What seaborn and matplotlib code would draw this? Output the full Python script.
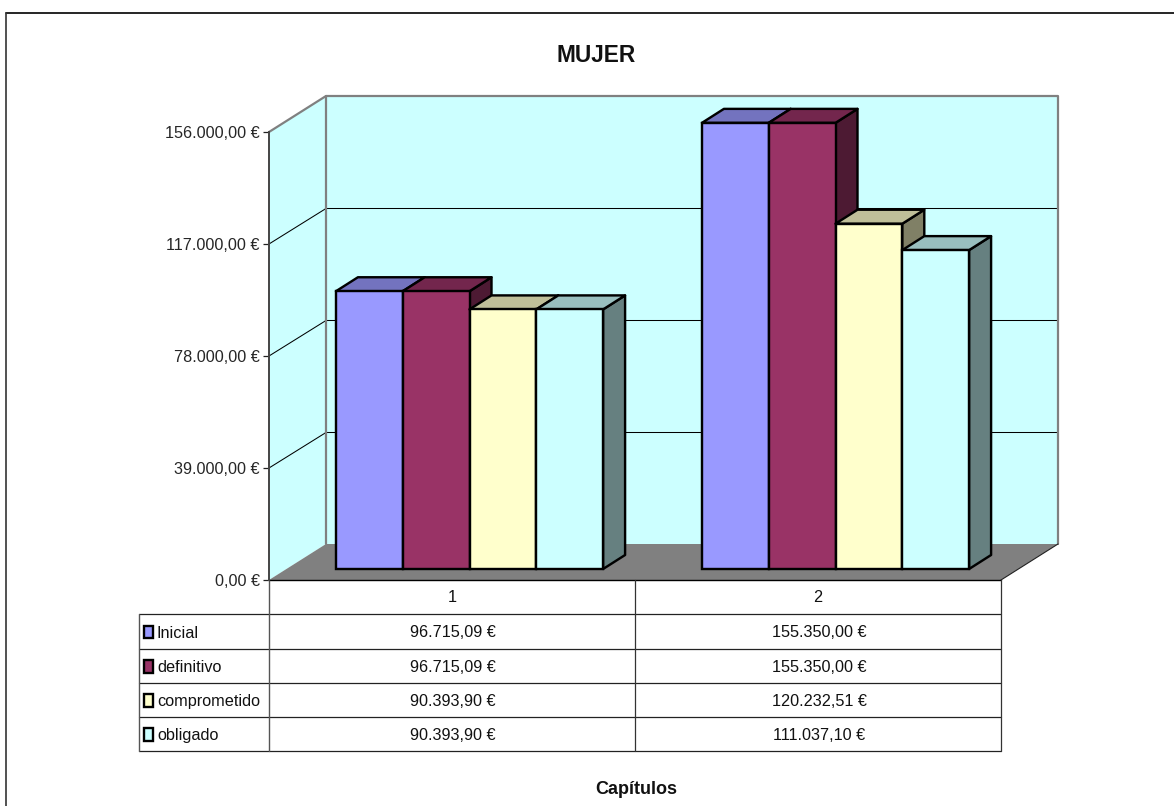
"""
plot.py
Excel style 3D column chart with data table, MUJER budget by chapter.
"""

import pandas as pd
import matplotlib
matplotlib.use("Agg")
import matplotlib.pyplot as plt
import seaborn as sns
from matplotlib.patches import Polygon, Rectangle

# ===== Data =====
CHAPTERS = ["1", "2"]
SERIES = ["Inicial", "definitivo", "comprometido", "obligado"]
INICIAL = [96715.09, 155350.00]
DEFINITIVO = [96715.09, 155350.00]
COMPROMETIDO = [90393.90, 120232.51]
OBLIGADO = [90393.90, 111037.10]
Y_TICKS = [0, 39000, 78000, 117000, 156000]
TITLE = "MUJER"
X_TITLE = "Capítulos"

FRONT = ["#9999FF", "#993366", "#FFFFCC", "#CCFFFF"]
TOP = ["#7373BF", "#73264D", "#BFBF99", "#99BFBF"]
SIDE = ["#4D4D80", "#4D1A33", "#808066", "#668080"]

# ===== Layout (pixels, top-left origin) =====
W, H = 1174, 806
LEFT, RIGHT, BASE, TOP_Y = 269, 1001, 580, 132
WALL_DX, WALL_DY = 57, -36
BAR_DX, BAR_DY = 17.5, -11
DEPTH_DX, DEPTH_DY = 22, -14
ROWS = [580, 614, 649, 683, 717, 751]
TABLE_LEFT = 139
EDGE = 2.4 * 72 / 100  # px to pt


def euro(v):
    s = f"{v:,.2f}".replace(",", "x").replace(".", ",").replace("x", ".")
    return f"{s} €"


def place_axes(fig, x0, x1, y_bottom, y_top, **kw):
    return fig.add_axes([x0 / W, 1 - y_bottom / H, (x1 - x0) / W, (y_bottom - y_top) / H], **kw)


sns.set_theme(style="white")
plt.rcParams["font.family"] = ["Liberation Sans", "DejaVu Sans"]
plt.rcParams["text.color"] = "#111111"

df = pd.DataFrame({
    "chapter": CHAPTERS * 4,
    "series": [s for s in SERIES for _ in CHAPTERS],
    "value": INICIAL + DEFINITIVO + COMPROMETIDO + OBLIGADO,
})

fig = plt.figure(figsize=(W / 100, H / 100), dpi=100, facecolor="white")

# ===== Background: walls, floor, table =====
bg = fig.add_axes([0, 0, 1, 1], zorder=0)
bg.set_xlim(0, W)
bg.set_ylim(H, 0)
bg.axis("off")

back_top = TOP_Y + WALL_DY
back_bottom = BASE + WALL_DY
back_left = LEFT + WALL_DX
back_right = RIGHT + WALL_DX

bg.add_patch(Rectangle((back_left, back_top), back_right - back_left, back_bottom - back_top,
                       fc="#CCFFFF", ec="none"))
bg.add_patch(Polygon([(LEFT, TOP_Y), (back_left, back_top), (back_left, back_bottom), (LEFT, BASE)],
                     fc="#CCFFFF", ec="none"))
bg.add_patch(Polygon([(LEFT, BASE), (back_left, back_bottom), (back_right, back_bottom), (RIGHT, BASE)],
                     fc="#808080", ec="none"))

px_per_unit = (BASE - TOP_Y) / Y_TICKS[-1]
for tick in Y_TICKS[1:-1]:
    y = BASE - tick * px_per_unit
    bg.plot([LEFT, back_left, back_right], [y, y + WALL_DY + 0.5, y + WALL_DY + 0.5], color="black", lw=0.75)

bg.plot([LEFT, back_left, back_right, back_right], [TOP_Y, back_top, back_top, back_bottom],
        color="#808080", lw=1.6)
bg.plot([back_left, back_left], [back_top, back_bottom], color="#808080", lw=1.6)
bg.plot([RIGHT, back_right], [BASE, back_bottom], color="#222222", lw=0.8)

# outer chart border (only top and left show)
bg.plot([6, W], [12.5, 12.5], color="black", lw=1.2)
bg.plot([6, 6], [12.5, H], color="#333333", lw=1.2)

# data table
col_x = [LEFT, (LEFT + RIGHT) / 2, RIGHT]
bg.plot([LEFT, RIGHT], [ROWS[0], ROWS[0]], color="black", lw=1.0)
for y in ROWS[1:]:
    bg.plot([TABLE_LEFT, RIGHT], [y, y], color="#222222", lw=0.9)
bg.plot([TABLE_LEFT, TABLE_LEFT], [ROWS[1], ROWS[-1]], color="#555555", lw=1.0)
bg.plot([LEFT, LEFT], [ROWS[0], ROWS[-1]], color="#555555", lw=1.0)
for x in col_x[1:]:
    bg.plot([x, x], [ROWS[0], ROWS[-1]], color="#333333", lw=0.9)

FONT = 11.7
centers = [(col_x[0] + col_x[1]) / 2, (col_x[1] + col_x[2]) / 2]
for cx, chap in zip(centers, CHAPTERS):
    bg.text(cx, (ROWS[0] + ROWS[1]) / 2 + 0.5, chap, ha="center", va="center", fontsize=FONT)

for i, name in enumerate(SERIES):
    y = (ROWS[i + 1] + ROWS[i + 2]) / 2
    bg.add_patch(Rectangle((143.5, y - 6), 9.5, 12.5, fc=FRONT[i], ec="black", lw=1.7))
    bg.text(157, y + 1.5, name, ha="left", va="center", fontsize=FONT)
    vals = df.loc[df["series"] == name, "value"].tolist()
    for cx, v in zip(centers, vals):
        bg.text(cx + 1, y + 1, euro(v), ha="center", va="center", fontsize=FONT)

bg.text(596, 55.5, TITLE, ha="center", va="center", fontsize=16.3, fontweight="bold")
bg.text(636, 789, X_TITLE, ha="center", va="center", fontsize=13, fontweight="bold")

# ===== Value axis on the front plane =====
ax_y = place_axes(fig, LEFT, RIGHT, BASE, TOP_Y, zorder=1)
ax_y.patch.set_alpha(0)
ax_y.set_xlim(0, 1)
ax_y.set_ylim(0, Y_TICKS[-1])
ax_y.set_xticks([])
ax_y.set_yticks(Y_TICKS)
ax_y.set_yticklabels([euro(t) for t in Y_TICKS], fontsize=FONT)
ax_y.tick_params(axis="y", left=True, length=4, width=0.9, color="#222222", pad=2.5)
for side in ("top", "right", "bottom"):
    ax_y.spines[side].set_visible(False)
ax_y.spines["left"].set_color("#444444")
ax_y.spines["left"].set_linewidth(1.4)

# ===== Bars =====
ax = place_axes(fig, LEFT + BAR_DX, RIGHT + BAR_DX, BASE + BAR_DY, TOP_Y + BAR_DY, zorder=2)
ax.patch.set_alpha(0)
sns.barplot(data=df, x="chapter", y="value", hue="series", order=CHAPTERS, hue_order=SERIES,
            palette=FRONT, width=0.73, gap=0, saturation=1, dodge=True, legend=False,
            edgecolor="black", linewidth=EDGE, ax=ax, errorbar=None)
ax.set_xlim(-0.5, 1.5)
ax.set_ylim(0, Y_TICKS[-1])
ax.axis("off")

depth_x = DEPTH_DX / ((RIGHT - LEFT) / 2)
depth_y = -DEPTH_DY / px_per_unit

bars = []
for i, container in enumerate(ax.containers):
    for rect in container:
        bars.append((rect, i))
bars.sort(key=lambda b: b[0].get_x())

for n, (rect, i) in enumerate(bars):
    x0, x1 = rect.get_x(), rect.get_x() + rect.get_width()
    h = rect.get_height()
    z = 3 + n * 3
    ax.add_patch(Polygon([(x1, 0), (x1 + depth_x, depth_y), (x1 + depth_x, h + depth_y), (x1, h)],
                         fc=SIDE[i], ec="black", lw=EDGE, joinstyle="round", clip_on=False, zorder=z))
    ax.add_patch(Polygon([(x0, h), (x0 + depth_x, h + depth_y), (x1 + depth_x, h + depth_y), (x1, h)],
                         fc=TOP[i], ec="black", lw=EDGE, joinstyle="round", clip_on=False, zorder=z + 1))
    rect.set_zorder(z + 2)
    rect.set_clip_on(False)

fig.savefig("out.png", dpi=100)
